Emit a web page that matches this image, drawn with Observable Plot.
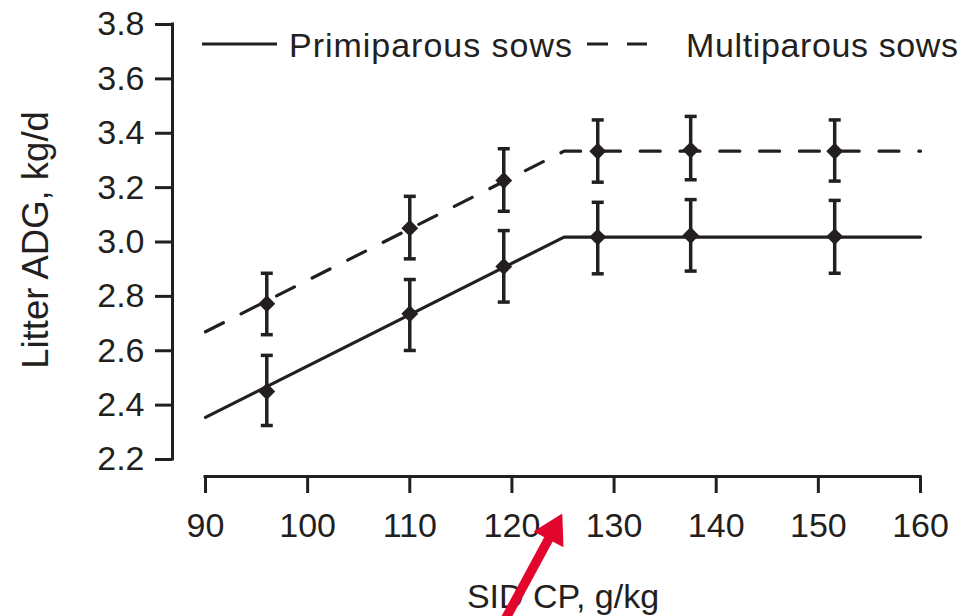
<!DOCTYPE html>
<html>
<head>
<meta charset="utf-8">
<script src="https://cdn.jsdelivr.net/npm/d3@7"></script>
<script src="https://cdn.jsdelivr.net/npm/@observablehq/plot@0.6"></script>
<style>
  html, body { margin: 0; padding: 0; background: #fff; }
  #wrap { position: relative; width: 971px; height: 616px; overflow: hidden;
          font-family: "Liberation Sans", Arial, Helvetica, sans-serif; color: #231f20; }
  #legend { position: absolute; left: 0; top: 0; pointer-events: none; }
</style>
</head>
<body>
<div id="wrap"></div>
<script>
// ---- data ----
const xTicks = [90, 100, 110, 120, 130, 140, 150, 160];
const yTicks = [2.2, 2.4, 2.6, 2.8, 3.0, 3.2, 3.4, 3.6, 3.8];

const sidCP      = [96, 110, 119.2, 128.4, 137.5, 151.6];
const primiMean  = [2.450, 2.736, 2.910, 3.018, 3.024, 3.020];
const primiLow   = [2.325, 2.601, 2.779, 2.883, 2.893, 2.885];
const primiHigh  = [2.583, 2.862, 3.042, 3.146, 3.156, 3.153];
const multiMean  = [2.773, 3.051, 3.226, 3.334, 3.338, 3.334];
const multiLow   = [2.659, 2.938, 3.113, 3.220, 3.229, 3.224];
const multiHigh  = [2.885, 3.168, 3.343, 3.449, 3.462, 3.449];

// broken-line fits
const fitCP      = [90, 125.1, 160];
const primiFit   = [2.355, 3.018, 3.018];
const multiFit   = [2.670, 3.334, 3.334];

// red annotation arrow (points at the breakpoint)
const arrowStart = [119.17, 1.600];
const arrowHead  = [124.03, 1.938];

const seriesNames = ["Primiparous sows", "Multiparous sows"];
const xTitle = "SID CP, g/kg";
const yTitle = "Litter ADG, kg/d";

// ---- build tables ----
const ink = "#231f20";
const red = "#e2062c";
const points = sidCP.flatMap((x, i) => [
  {x, mean: primiMean[i], lo: primiLow[i], hi: primiHigh[i], s: seriesNames[0]},
  {x, mean: multiMean[i], lo: multiLow[i], hi: multiHigh[i], s: seriesNames[1]}
]);
const primiLine = fitCP.map((x, i) => ({x, y: primiFit[i]}));
const multiLine = fitCP.map((x, i) => ({x, y: multiFit[i]}));
const arrow = [{x1: arrowStart[0], y1: arrowStart[1], x2: arrowHead[0], y2: arrowHead[1]}];

const capSymbol = { draw(ctx) { ctx.moveTo(-6, 0); ctx.lineTo(6, 0); } };
const font = 34;

const chart = Plot.plot({
  width: 971,
  height: 616,
  marginLeft: 205,
  marginRight: 51,
  marginTop: 24,
  marginBottom: 157,
  style: { fontFamily: '"Liberation Sans", Arial, Helvetica, sans-serif', fontSize: font + "px",
           color: ink, background: "white", overflow: "visible" },
  x: { domain: [d3.min(xTicks), d3.max(xTicks)], label: null },
  y: { domain: [d3.min(yTicks), d3.max(yTicks)], label: null },
  marks: [
    // offset axes
    Plot.ruleX([d3.min(xTicks)], {y1: d3.min(yTicks), y2: d3.max(yTicks), dx: -33, stroke: ink, strokeWidth: 3, strokeLinecap: "square"}),
    Plot.axisY({ticks: yTicks, tickFormat: d3.format(".1f"), tickSize: 17, tickPadding: 11, dx: -33,
                fontSize: font, stroke: ink, fill: ink, strokeWidth: 3, label: null}),
    Plot.ruleY([d3.min(yTicks)], {x1: d3.min(xTicks), x2: d3.max(xTicks), dy: 17, stroke: ink, strokeWidth: 3, strokeLinecap: "square"}),
    Plot.axisX({ticks: xTicks, tickFormat: d3.format("d"), tickSize: 17, tickPadding: 19, dy: 17,
                fontSize: font, stroke: ink, fill: ink, strokeWidth: 3, label: null}),
    // axis titles
    Plot.text([xTitle], {text: d => d, frameAnchor: "bottom", dy: 148, lineAnchor: "bottom", textAnchor: "middle", fontSize: font, fill: ink}),
    Plot.text([yTitle], {text: d => d, frameAnchor: "left", dx: -158, dy: -2, rotate: -90, lineAnchor: "bottom", textAnchor: "middle", fontSize: 36.5, fill: ink}),
    // fitted lines
    Plot.line(primiLine, {x: "x", y: "y", stroke: ink, strokeWidth: 3.2}),
    Plot.line(multiLine, {x: "x", y: "y", stroke: ink, strokeWidth: 3.2, strokeDasharray: "20,19.8"}),
    // error bars
    Plot.ruleX(points, {x: "x", y1: "lo", y2: "hi", stroke: ink, strokeWidth: 3.5}),
    Plot.dot(points, {x: "x", y: "lo", symbol: capSymbol, r: 6, stroke: ink, strokeWidth: 3.5}),
    Plot.dot(points, {x: "x", y: "hi", symbol: capSymbol, r: 6, stroke: ink, strokeWidth: 3.5}),
    // means
    Plot.dot(points, {x: "x", y: "mean", symbol: "diamond2", r: 7.6, fill: ink, stroke: "none"}),
    // red arrow
    Plot.link(arrow, {x1: "x1", y1: "y1", x2: "x2", y2: "y2", stroke: red, strokeWidth: 9.5}),
    Plot.dot(arrow, {x: "x2", y: "y2", symbol: "triangle", r: 12.6, rotate: 28, fill: red, stroke: "none"})
  ]
});

const wrap = document.getElementById("wrap");
wrap.appendChild(chart);

// legend (top of the panel)
const ns = "http://www.w3.org/2000/svg";
const leg = document.createElementNS(ns, "svg");
leg.setAttribute("id", "legend");
leg.setAttribute("width", 971);
leg.setAttribute("height", 80);
const legendItems = [
  {name: seriesNames[0], x1: 202, x2: 277, dash: null, tx: 289, tw: 283},
  {name: seriesNames[1], x1: 587, x2: 647, dash: "21,19", tx: 686, tw: 272}
];
for (const it of legendItems) {
  const l = document.createElementNS(ns, "line");
  l.setAttribute("x1", it.x1); l.setAttribute("x2", it.x2);
  l.setAttribute("y1", 44); l.setAttribute("y2", 44);
  l.setAttribute("stroke", ink); l.setAttribute("stroke-width", 3.2);
  if (it.dash) l.setAttribute("stroke-dasharray", it.dash);
  leg.appendChild(l);
  const t = document.createElementNS(ns, "text");
  t.setAttribute("x", it.tx); t.setAttribute("y", 57);
  t.setAttribute("fill", ink);
  t.setAttribute("font-size", font);
  t.setAttribute("font-family", '"Liberation Sans", Arial, Helvetica, sans-serif');
  t.setAttribute("textLength", it.tw);
  t.setAttribute("lengthAdjust", "spacing");
  t.textContent = it.name;
  leg.appendChild(t);
}
wrap.appendChild(leg);
</script>
</body>
</html>
